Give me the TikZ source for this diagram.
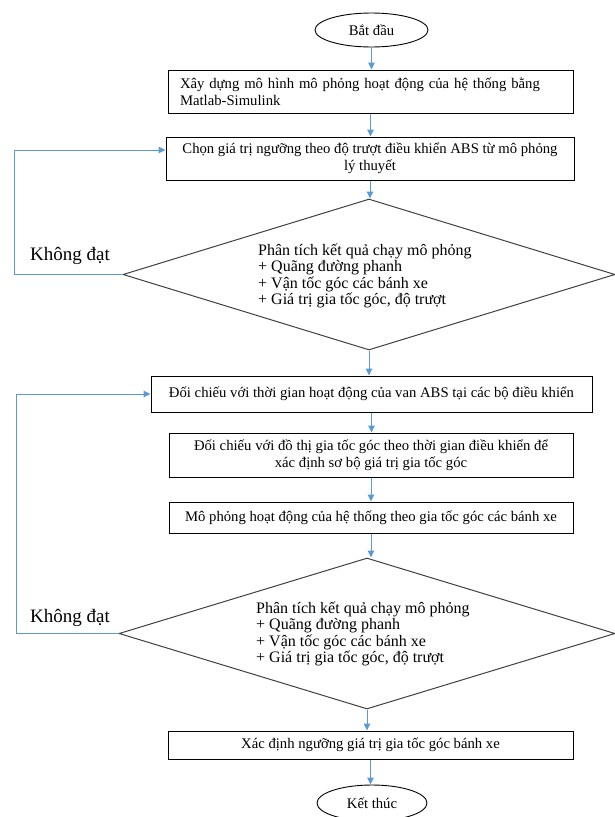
\documentclass[tikz,border=0pt]{standalone}
\usepackage{fontspec}
\setmainfont{Liberation Serif}
\usetikzlibrary{arrows.meta,shapes.geometric,calc}
\definecolor{flowblue}{HTML}{5B9BD5}
\definecolor{dgray}{HTML}{404040}
\begin{document}
\begin{tikzpicture}[x=1pt,y=-1pt,
  box/.style={draw=black,line width=1pt,inner sep=0pt,align=center,font=\fontsize{14.7}{17}\selectfont},
  term/.style={draw=black,line width=0.9pt,ellipse,inner sep=0pt,font=\fontsize{14.7}{17}\selectfont},
  dia/.style={draw=dgray,line width=1pt,diamond,inner sep=0pt},
  diatext/.style={align=left,inner sep=0pt,font=\fontsize{16}{16.3}\selectfont},
  lab/.style={inner sep=0pt,font=\fontsize{19}{22}\selectfont},
  flow/.style={draw=flowblue,line width=1pt,-{Triangle[width=6.5pt,length=7pt]}},
]
\clip (0,0) rectangle (615,817);
\useasboundingbox (0,0) rectangle (615,817);

\node[term,minimum width=113pt,minimum height=34pt] (start) at (371.5,30) {Bắt đầu};

\node[box,minimum width=405pt,minimum height=43pt,text width=381pt,inner xsep=12pt,align=left] (b1) at (370.5,91.5)
  {Xây dựng mô hình mô phỏng hoạt động của hệ thống bằng\\Matlab-Simulink};

\node[box,minimum width=408pt,minimum height=43pt] (b2) at (370,158.5)
  {Chọn giá trị ngưỡng theo độ trượt điều khiển ABS từ mô phỏng\\lý thuyết};

\node[dia,minimum width=492pt,minimum height=151pt] (d1) at (369,274.5) {};
\node[diatext,anchor=west] (t1) at (258,276)
  {Phân tích kết quả chạy mô phỏng\\+ Quãng đường phanh\\+ Vận tốc góc các bánh xe\\+ Giá trị gia tốc góc, độ trượt};
\node[lab] (k1) at (70,256) {Không đạt};

\node[box,minimum width=441pt,minimum height=36pt] (b3) at (371.5,394)
  {Đối chiếu với thời gian hoạt động của van ABS tại các bộ điều khiển};

\node[box,minimum width=404pt,minimum height=44pt] (b4) at (371,455)
  {Đối chiếu với đồ thị gia tốc góc theo thời gian điều khiển để\\xác định sơ bộ giá trị gia tốc góc};

\node[box,minimum width=404pt,minimum height=31pt] (b5) at (371,517.5)
  {Mô phỏng hoạt động của hệ thống theo gia tốc góc các bánh xe};

\node[dia,minimum width=496pt,minimum height=151pt] (d2) at (367,633.5) {};
\node[diatext,anchor=west] (t2) at (256,634)
  {Phân tích kết quả chạy mô phỏng\\+ Quãng đường phanh\\+ Vận tốc góc các bánh xe\\+ Giá trị gia tốc góc, độ trượt};
\node[lab] (k2) at (70,618) {Không đạt};

\node[box,minimum width=405pt,minimum height=28pt] (b6) at (370.5,745)
  {Xác định ngưỡng giá trị gia tốc góc bánh xe};

\node[term,minimum width=110pt,minimum height=36pt] (end) at (372,803) {Kết thúc};

% main flow
\draw[flow] (start.south) -- (start.south |- b1.north);
\draw[flow] (b1.south) -- (b1.south |- b2.north);
\draw[flow] (b2.south) -- (b2.south |- d1.north);
\draw[flow] (d1.south) -- (d1.south |- b3.north);
\draw[flow] (b3.south) -- (b3.south |- b4.north);
\draw[flow] (b4.south) -- (b4.south |- b5.north);
\draw[flow] (b5.south) -- (b5.south |- d2.north);
\draw[flow] (d2.south) -- (d2.south |- b6.north);
\draw[flow] (b6.south) -- (b6.south |- end.north);

% loops
\coordinate (c1) at (14,150);
\coordinate (c2) at (16,394);
\draw[flow] (d1.west) -| (c1) -- (c1 -| b2.west);
\draw[flow] (d2.west) -| (c2) -- (b3.west);
\end{tikzpicture}
\end{document}
